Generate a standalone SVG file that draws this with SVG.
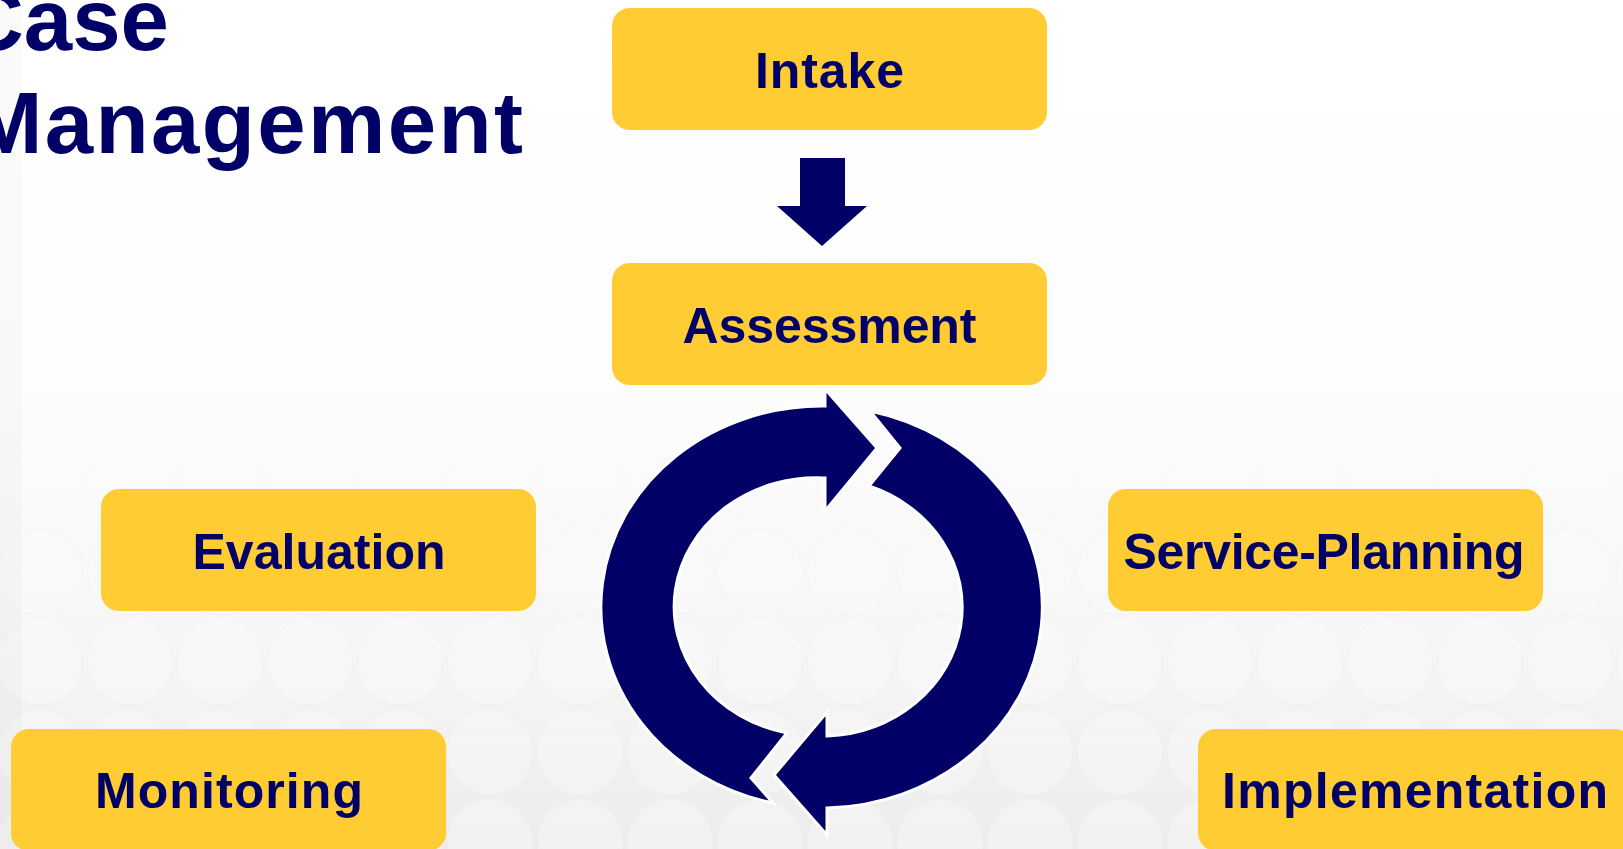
<svg xmlns="http://www.w3.org/2000/svg" width="1623" height="849" viewBox="0 0 1623 849">
  <defs>
    <linearGradient id="bg" x1="0" y1="0" x2="0" y2="849" gradientUnits="userSpaceOnUse">
      <stop offset="0" stop-color="#ffffff"/>
      <stop offset="0.45" stop-color="#fdfdfd"/>
      <stop offset="0.75" stop-color="#f6f6f6"/>
      <stop offset="1" stop-color="#ececec"/>
    </linearGradient>
    <linearGradient id="fade" x1="0" y1="437" x2="0" y2="849" gradientUnits="userSpaceOnUse">
      <stop offset="0" stop-color="#ffffff" stop-opacity="0.2"/>
      <stop offset="0.5" stop-color="#ffffff" stop-opacity="0.8"/>
      <stop offset="1" stop-color="#ffffff" stop-opacity="1"/>
    </linearGradient>
    <mask id="fadeMask" maskUnits="userSpaceOnUse" x="0" y="0" width="1623" height="849">
      <rect x="0" y="437" width="1623" height="412" fill="url(#fade)"/>
    </mask>
    <pattern id="dots" patternUnits="userSpaceOnUse" x="-5" y="437" width="90" height="90">
      <circle cx="45" cy="45" r="43" fill="#ffffff" fill-opacity="0.3" stroke="#e6e6e6" stroke-opacity="0.35" stroke-width="1"/>
    </pattern>
  </defs>
  <style>
    .box { fill: #FFCC33; }
    .lbl { font-family: "Liberation Sans", Arial, sans-serif; font-weight: bold; font-size: 50px; fill: #000066; text-anchor: middle; }
    .title { font-family: "Liberation Sans", Arial, sans-serif; font-weight: bold; font-size: 87px; fill: #000066; }
    .navy { fill: #000066; }
    .cyc { fill: #000066; stroke: #ffffff; stroke-width: 3; stroke-linejoin: miter; }
  </style>

  <rect x="0" y="0" width="1623" height="849" fill="url(#bg)"/>
  <rect x="0" y="437" width="1623" height="412" fill="url(#dots)" mask="url(#fadeMask)"/>
  <rect x="0" y="0" width="21" height="849" fill="#000000" fill-opacity="0.02"/>

  <g id="title">
    <text class="title" x="-39" y="50">Case</text>
    <text class="title" x="-30" y="153" textLength="553">Management</text>
  </g>

  <g id="node-intake">
    <rect class="box" x="612" y="8" width="435" height="122" rx="18"/>
    <text class="lbl" x="829.5" y="88" textLength="149">Intake</text>
  </g>
  <g id="node-assessment">
    <rect class="box" x="612" y="263" width="435" height="122" rx="18"/>
    <text class="lbl" x="829.5" y="343" textLength="294">Assessment</text>
  </g>
  <g id="node-evaluation">
    <rect class="box" x="101" y="489" width="435" height="122" rx="18"/>
    <text class="lbl" x="319" y="569" textLength="253">Evaluation</text>
  </g>
  <g id="node-service-planning">
    <rect class="box" x="1108" y="489" width="435" height="122" rx="18"/>
    <text class="lbl" x="1324" y="569" textLength="401">Service-Planning</text>
  </g>
  <g id="node-monitoring">
    <rect class="box" x="11" y="729" width="435" height="122" rx="18"/>
    <text class="lbl" x="229" y="808" textLength="268">Monitoring</text>
  </g>
  <g id="node-implementation">
    <rect class="box" x="1198" y="729" width="435" height="122" rx="18"/>
    <text class="lbl" x="1415" y="808" textLength="386">Implementation</text>
  </g>

  <g id="connectors">
    <polygon class="navy" points="800,158 845,158 845,206 867,206 822,246 777,206 800,206"/>
    <path class="cyc" d="M 825,406 L 825,389 L 877,448 L 825,511 L 825,478 A 142 129 0 0 0 787,733 L 751,778 L 773,803 A 221 201 0 0 1 825,406 Z"/>
    <path class="cyc" d="M 827,808 L 827,835 L 774,775 L 827,712 L 827,736 A 142 129 0 0 0 869,486 L 900,448 L 870,411 A 221 201 0 0 1 827,808 Z"/>
  </g>
</svg>
